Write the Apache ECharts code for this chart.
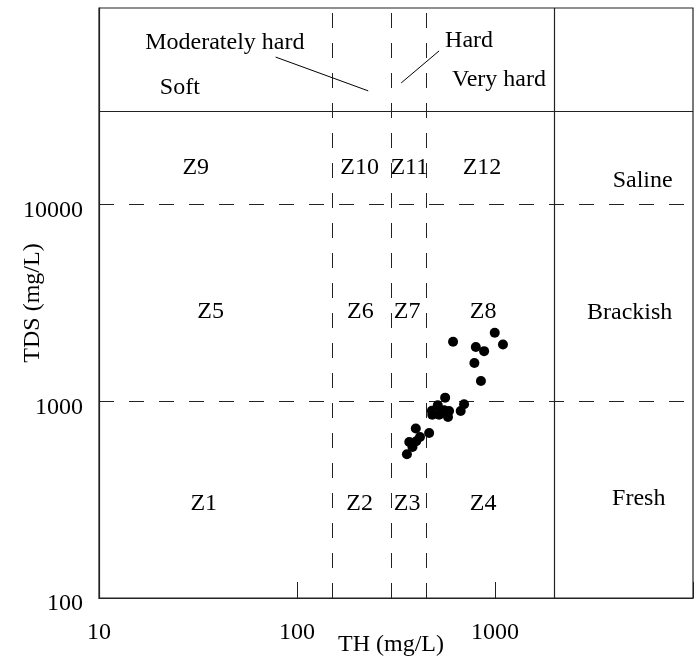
<!DOCTYPE html>
<html>
<head>
<meta charset="utf-8">
<script src="https://cdn.jsdelivr.net/npm/echarts@6/dist/echarts.min.js"></script>
<style>
  html, body { margin: 0; padding: 0; background: #fff; }
  #chart { width: 695px; height: 658px; }
</style>
</head>
<body>
<div id="chart"></div>
<script>
// Axis ticks that carry labels
const thTicks = [10, 100, 1000];
const tdsTicks = [100, 1000, 10000];

// Class boundaries
const hardnessBounds = [150, 300, 450];   // soft / moderately hard / hard / very hard
const salinityBounds = [1000, 10000];     // fresh / brackish / saline
const thLimit = 2000;                     // edge of the zone field (TH)
const tdsLimit = 30000;                   // edge of the zone field (TDS)

// Groundwater samples: total hardness and total dissolved solids (mg/L)
const sampleTH  = [614, 997, 1097, 800, 881, 787, 849,
                   560, 698, 671, 514, 480, 482, 522, 553, 586, 579,
                   398, 465, 418, 369, 383, 359, 400];
const sampleTDS = [2010, 2233, 1946, 1888, 1800, 1565, 1268,
                   1044, 966, 893, 954, 895, 855, 855, 900, 893, 832,
                   727, 690, 659, 621, 586, 538, 627];

// Zone labels and their anchor values
const zoneNames = ['Z9', 'Z10', 'Z11', 'Z12', 'Z5', 'Z6', 'Z7', 'Z8', 'Z1', 'Z2', 'Z3', 'Z4'];
const zoneTH    = [30.8, 207, 369, 860, 36.6, 209, 360, 871, 33.8, 207, 360, 871];
const zoneTDS   = [15400, 15400, 15400, 15400, 2865, 2865, 2865, 2865, 300, 300, 300, 300];

// Class names in the hardness strip and the salinity strip
const classNames = ['Moderately hard', 'Soft', 'Hard', 'Very hard', 'Saline', 'Brackish', 'Fresh'];
const classTH    = [43.2, 25.6, 740, 1047, 5570, 4790, 5320];
const classTDS   = [66400, 39300, 67900, 43100, 13240, 2830, 319];

// Leader lines pointing at the narrow hardness classes
const leaderFrom = [[78, 56300], [522, 60500]];
const leaderTo   = [[229, 37900], [336, 41600]];

const FONT = '"Liberation Serif", "Times New Roman", serif';
const INK = '#000';
const FRAME = '#222';

const chart = echarts.init(document.getElementById('chart'), null, { renderer: 'canvas' });

const dashed = { color: FRAME, width: 1, type: [15, 15], opacity: 1 };
const solid = { color: FRAME, width: 1.2, type: 'solid', opacity: 1 };

const boundaryLines = [
  ...hardnessBounds.map(v => ({ xAxis: v, lineStyle: dashed })),
  ...salinityBounds.map(v => ({ yAxis: v, lineStyle: dashed })),
  { xAxis: thLimit, lineStyle: solid },
  { yAxis: tdsLimit, lineStyle: solid },
  ...leaderFrom.map((p, i) => [
    { coord: p, lineStyle: { color: INK, width: 1, type: 'solid', opacity: 1 } },
    { coord: leaderTo[i] }
  ])
];

const textLabel = {
  show: true,
  position: 'inside',
  formatter: p => p.data[2],
  color: INK,
  opacity: 1,
  fontFamily: FONT,
  fontSize: 24
};

chart.setOption({
  animation: false,
  backgroundColor: '#fff',
  grid: {
    left: 99, right: 2, top: 8, bottom: 60,
    outerBoundsMode: 'none',
    containLabel: false,
    show: true, borderColor: FRAME, borderWidth: 1.2
  },
  xAxis: {
    type: 'log', logBase: 10, min: 10, max: 10000,
    name: 'TH (mg/L)', nameLocation: 'middle', nameGap: 35,
    nameMoveOverlap: false,
    nameTextStyle: { color: INK, fontFamily: FONT, fontSize: 24, padding: [0, 10, 0, 0] },
    axisLine: { show: true, lineStyle: { color: FRAME, width: 1.2 } },
    axisTick: { show: true, inside: true, length: 16, lineStyle: { color: FRAME, width: 1 } },
    axisLabel: {
      color: INK, fontFamily: FONT, fontSize: 24, margin: 23,
      formatter: v => thTicks.includes(Math.round(v)) ? String(Math.round(v)) : ''
    },
    splitLine: { show: false }
  },
  yAxis: {
    type: 'log', logBase: 10, min: 100, max: 100000,
    name: 'TDS (mg/L)', nameLocation: 'middle', nameGap: 54, nameRotate: 90,
    nameMoveOverlap: false,
    nameTextStyle: { color: INK, fontFamily: FONT, fontSize: 24 },
    axisLine: { show: true, lineStyle: { color: FRAME, width: 1.2 } },
    axisTick: { show: false },
    axisLabel: {
      color: INK, fontFamily: FONT, fontSize: 24, margin: 16,
      verticalAlign: 'top', lineHeight: 12,
      formatter: v => tdsTicks.includes(Math.round(v)) ? String(Math.round(v)) : ''
    },
    splitLine: { show: false }
  },
  series: [
    {
      name: 'Samples',
      type: 'scatter',
      symbol: 'circle',
      symbolSize: 10,
      itemStyle: { color: '#000', opacity: 1 },
      data: sampleTH.map((v, i) => [v, sampleTDS[i]]),
      markLine: {
        silent: true,
        symbol: ['none', 'none'],
        label: { show: false },
        data: boundaryLines
      },
      z: 5
    },
    {
      name: 'Zones',
      type: 'scatter',
      symbolSize: 0,
      silent: true,
      itemStyle: { opacity: 1 },
      label: textLabel,
      data: zoneNames.map((n, i) => [zoneTH[i], zoneTDS[i], n])
    },
    {
      name: 'Classes',
      type: 'scatter',
      symbolSize: 0,
      silent: true,
      itemStyle: { opacity: 1 },
      label: textLabel,
      data: classNames.map((n, i) => [classTH[i], classTDS[i], n])
    }
  ]
});
</script>
</body>
</html>
